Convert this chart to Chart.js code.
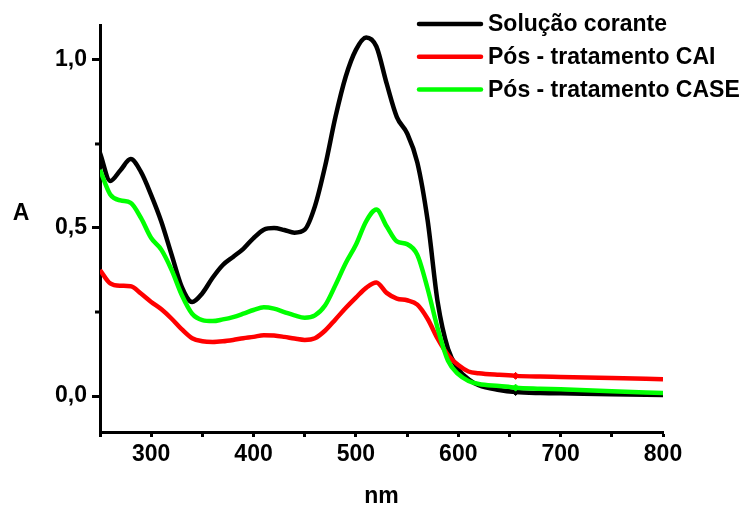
<!DOCTYPE html>
<html><head><meta charset="utf-8">
<script src="https://cdn.jsdelivr.net/npm/chart.js@4.4.1/dist/chart.umd.min.js"></script>
<style>html,body{margin:0;padding:0;background:#fff}</style>
</head><body>
<canvas id="c" width="745" height="511"></canvas>
<script>
const wavelengths = [250,260,270,280,290,300,310,320,330,340,350,360,370,380,390,400,410,420,430,440,450,460,470,480,490,500,510,520,530,540,550,560,570,580,590,600,610,620,640,656,680,700,750,800];
const solucaoCorante = [0.723,0.640,0.672,0.705,0.667,0.598,0.518,0.420,0.324,0.280,0.306,0.352,0.390,0.414,0.438,0.470,0.495,0.500,0.494,0.486,0.495,0.565,0.685,0.830,0.950,1.030,1.067,1.040,0.930,0.830,0.782,0.695,0.524,0.277,0.140,0.080,0.050,0.032,0.018,0.012,0.009,0.008,0.005,0.003];
const posTratamentoCAI = [0.375,0.335,0.328,0.327,0.305,0.280,0.258,0.230,0.198,0.172,0.163,0.161,0.163,0.167,0.172,0.176,0.181,0.180,0.176,0.171,0.167,0.172,0.195,0.228,0.262,0.293,0.322,0.338,0.307,0.290,0.285,0.272,0.230,0.170,0.122,0.092,0.073,0.068,0.063,0.060,0.058,0.057,0.054,0.050];
const posTratamentoCASE = [0.673,0.600,0.582,0.575,0.530,0.470,0.435,0.375,0.300,0.245,0.226,0.223,0.228,0.235,0.245,0.256,0.264,0.260,0.250,0.240,0.233,0.240,0.270,0.330,0.395,0.450,0.520,0.555,0.505,0.460,0.452,0.420,0.320,0.200,0.105,0.065,0.045,0.036,0.030,0.025,0.022,0.020,0.014,0.009];
const seriesLabels = ['Solução corante','Pós - tratamento CAI','Pós - tratamento CASE'];
const seriesColors = ['#000000','#ff0000','#00ff00'];
const xTickLabels = ['300','400','500','600','700','800'];
const yTickLabels = ['0,0','0,5','1,0'];
const yTickValues = [0,0.5,1];
const yMinorTicks = [0.25,0.75];
const xTitle = 'nm';
const yTitle = 'A';
const markerWavelength = 656;

const FONT = '"Liberation Sans", Arial, sans-serif';
const markerIndex = wavelengths.indexOf(markerWavelength);

function mk(values){ return wavelengths.map((w,i)=>({x:w,y:values[i]})); }
const seriesValues = [solucaoCorante, posTratamentoCAI, posTratamentoCASE];
const drawOrder = [2,1,0];
const isMajorY = v => yTickValues.some(t => Math.abs(t - v) < 1e-6);

const overlay = {
  id:'overlay',
  afterDraw(chart){
    const ctx = chart.ctx, a = chart.chartArea, ys = chart.scales.y;
    ctx.save();
    // short minor ticks on the y axis
    ctx.strokeStyle = '#000'; ctx.lineWidth = 3;
    yMinorTicks.forEach(v => {
      const py = ys.getPixelForValue(v);
      ctx.beginPath(); ctx.moveTo(a.left - 5, py); ctx.lineTo(a.left, py); ctx.stroke();
    });
    ctx.font = 'bold 23px ' + FONT;
    ctx.fillStyle = '#000';
    ctx.textBaseline = 'middle';
    ctx.textAlign = 'center';
    ctx.fillText(yTitle, 21, 214);
    ctx.fillText(xTitle, (a.left + a.right) / 2, 497);
    ctx.textAlign = 'left';
    chart.data.datasets.forEach((ds, i) => {
      const y = 24 + i * 32.7;
      ctx.strokeStyle = ds.borderColor; ctx.lineWidth = 4.5; ctx.lineCap = 'round';
      ctx.beginPath(); ctx.moveTo(419, y); ctx.lineTo(481, y); ctx.stroke();
      ctx.fillText(ds.label, 488, y + 1);
    });
    ctx.restore();
  }
};

new Chart(document.getElementById('c'), {
  type: 'line',
  data: {
    datasets: seriesLabels.map((lab, i) => ({
      label: lab,
      data: mk(seriesValues[i]),
      borderColor: seriesColors[i],
      backgroundColor: seriesColors[i],
      borderWidth: 4.5,
      cubicInterpolationMode: 'monotone',
      order: drawOrder[i],
      pointStyle: 'rectRot',
      pointRadius: c => c.dataIndex === markerIndex ? 3.5 : 0,
      pointHoverRadius: 0,
      pointBorderWidth: 1,
      fill: false
    }))
  },
  options: {
    responsive: false,
    animation: false,
    events: [],
    layout: { padding: { left: 0, right: 82, top: 25, bottom: 0 } },
    plugins: { legend: { display: false }, tooltip: { enabled: false }, title: { display: false } },
    scales: {
      x: {
        type: 'linear', min: 250, max: 800,
        border: { display: true, color: '#000', width: 3 },
        grid: { drawOnChartArea: false, drawTicks: true, tickLength: 5, tickWidth: 3, tickColor: '#000' },
        ticks: {
          stepSize: 50, autoSkip: false, maxRotation: 0, padding: 4,
          color: '#000', font: { family: FONT, size: 23, weight: 'bold' },
          callback: v => { const s = String(Math.round(v)); return xTickLabels.includes(s) ? s : ''; }
        },
        afterFit: s => { s.height = 79; }
      },
      y: {
        type: 'linear', min: -0.107, max: 1.104,
        border: { display: true, color: '#000', width: 3 },
        grid: { drawOnChartArea: false, drawTicks: true, tickLength: 8, tickWidth: 3,
          tickColor: c => (c.tick && isMajorY(c.tick.value)) ? '#000' : 'rgba(0,0,0,0)' },
        ticks: {
          stepSize: 0.25, includeBounds: false, padding: 5,
          color: '#000', font: { family: FONT, size: 23, weight: 'bold' },
          callback: v => { const k = yTickValues.findIndex(t => Math.abs(t - v) < 1e-6); return k >= 0 ? yTickLabels[k] : ''; }
        },
        afterFit: s => { s.width = 100; }
      }
    }
  },
  plugins: [overlay]
});
</script>
</body></html>
